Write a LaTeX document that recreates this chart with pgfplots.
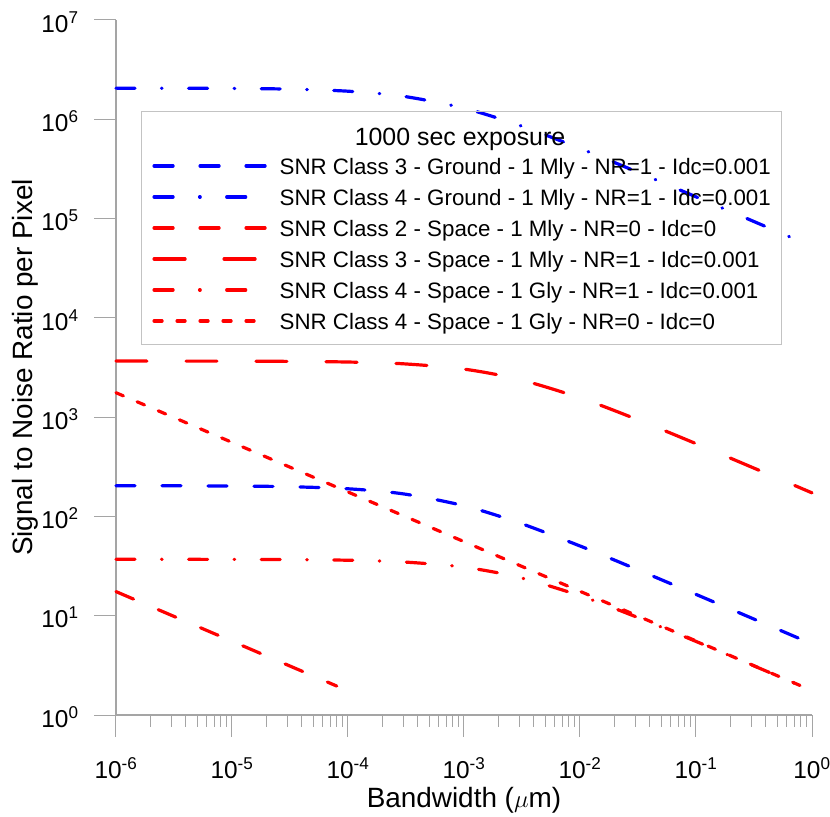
\documentclass[border=0pt]{standalone}
\usepackage{fontspec}
\setmainfont{Liberation Sans}
\usepackage{pgfplots}
\pgfplotsset{compat=1.18}
\definecolor{axgray}{RGB}{165,165,165}
\definecolor{leggray}{RGB}{195,195,195}
\begin{document}
\begin{tikzpicture}
\useasboundingbox (0,0) rectangle (830bp,817bp);
\begin{axis}[
  at={(116bp,102bp)}, anchor=south west,
  scale only axis, width=696bp, height=695bp,
  xmode=log, ymode=log,
  xmin=1e-6, xmax=1, ymin=1, ymax=1e7,
  axis lines*=left,
  axis line style={draw=axgray, line width=1.2bp},
  every tick/.style={draw=axgray, line width=1bp},
  tick align=outside,
  major tick length=22bp, minor tick length=12bp,
  yminorticks=false,
  xtick={1e-6,1e-5,1e-4,1e-3,1e-2,1e-1,1},
  xticklabels={10\textsuperscript{-6},10\textsuperscript{-5},10\textsuperscript{-4},10\textsuperscript{-3},10\textsuperscript{-2},10\textsuperscript{-1},10\textsuperscript{0}},
  ytick={1,10,100,1000,10000,100000,1000000,10000000},
  yticklabels={10\textsuperscript{0},10\textsuperscript{1},10\textsuperscript{2},10\textsuperscript{3},10\textsuperscript{4},10\textsuperscript{5},10\textsuperscript{6},10\textsuperscript{7}},
  ticklabel style={font=\fontsize{24.5}{29}\selectfont},
  xticklabel style={yshift=-17bp},
  yticklabel style={xshift=-12bp, yshift=-2bp},
  xlabel={Bandwidth ($\mu$m)},
  ylabel={Signal to Noise Ratio per Pixel},
  every axis x label/.style={at={(axis description cs:0.5,-0.1338)}, anchor=base, font=\fontsize{28}{33}\selectfont},
  every axis y label/.style={at={(axis description cs:-0.1193,0.5)}, anchor=base, rotate=90, font=\fontsize{28}{33}\selectfont},
  legend cell align=left,
  legend image code/.code={\draw[#1] (0bp,0bp) -- (112bp,0bp);},
  legend style={at={(axis description cs:0.0359,0.8691)}, anchor=north west,
    draw=leggray, line width=1bp, fill=none,
    font=\fontsize{22.4}{27}\selectfont,
    inner xsep=11bp, inner ysep=15bp, row sep=14bp, column sep=12bp,
    nodes={inner sep=0pt, text height=17bp, text depth=0bp}},
  every axis plot/.append style={line width=3.2bp, line cap=round},
  clip=false,
]
\addlegendimage{empty legend}
\addlegendentry{\phantom{1}}

\addplot[blue, smooth, dash pattern=on 19bp off 27bp] coordinates {
(1e-6,203.8) (3e-6,203.5) (1e-5,202.4) (3e-5,199.4) (1e-4,189.9) (3e-4,168.7)
(1e-3,128.0) (3e-3,86.1) (1e-2,50.4) (3e-2,29.7) (1e-1,16.4) (3e-1,9.49) (1,5.20)};
\addlegendentry{SNR Class 3 - Ground - 1 Mly - NR=1 - Idc=0.001}

\addplot[blue, smooth, dash pattern=on 19bp off 26.5bp on 0.6bp off 26.5bp] coordinates {
(1e-6,2.0584e6) (3e-6,2.0553e6) (1e-5,2.0443e6) (3e-5,2.014e6) (1e-4,1.918e6) (3e-4,1.704e6)
(1e-3,1.293e6) (3e-3,8.69e5) (1e-2,5.09e5) (3e-2,3.00e5) (1e-1,1.656e5) (3e-1,9.58e4) (1,5.25e4)};
\addlegendentry{SNR Class 4 - Ground - 1 Mly - NR=1 - Idc=0.001}

\addplot[red, dash pattern=on 19bp off 27bp] coordinates {
(1e-6,17.5) (1e-5,5.534) (8e-5,1.957)};
\addlegendentry{SNR Class 2 - Space - 1 Mly - NR=0 - Idc=0}

\addplot[red, smooth, dash pattern=on 31bp off 39bp] coordinates {
(1e-6,3669) (3e-6,3668) (1e-5,3662) (3e-5,3645) (1e-4,3590) (3e-4,3445)
(1e-3,3047) (3e-3,2393) (1e-2,1564) (3e-2,963) (1e-1,540.8) (3e-1,314.6) (1,172.7)};
\addlegendentry{SNR Class 3 - Space - 1 Mly - NR=1 - Idc=0.001}

\addplot[red, smooth, dash pattern=on 19bp off 26.5bp on 0.6bp off 26.5bp] coordinates {
(1e-6,36.99) (3e-6,36.98) (1e-5,36.92) (3e-5,36.76) (1e-4,36.21) (3e-4,34.77)
(1e-3,30.83) (3e-3,24.28) (1e-2,15.91) (3e-2,9.81) (1e-1,5.51) (3e-1,3.206) (1,1.761)};
\addlegendentry{SNR Class 4 - Space - 1 Gly - NR=1 - Idc=0.001}

\addplot[red, dash pattern=on 8bp off 15bp] coordinates {
(1e-6,1762) (1e-5,557.2) (1e-4,176.2) (1e-3,55.72) (1e-2,17.62) (1e-1,5.572) (1,1.762)};
\addlegendentry{SNR Class 4 - Space - 1 Gly - NR=0 - Idc=0}

\node[anchor=base, font=\fontsize{25}{30}\selectfont] at (axis description cs:0.4943,0.8191) {1000 sec exposure};
\end{axis}
\end{tikzpicture}
\end{document}
